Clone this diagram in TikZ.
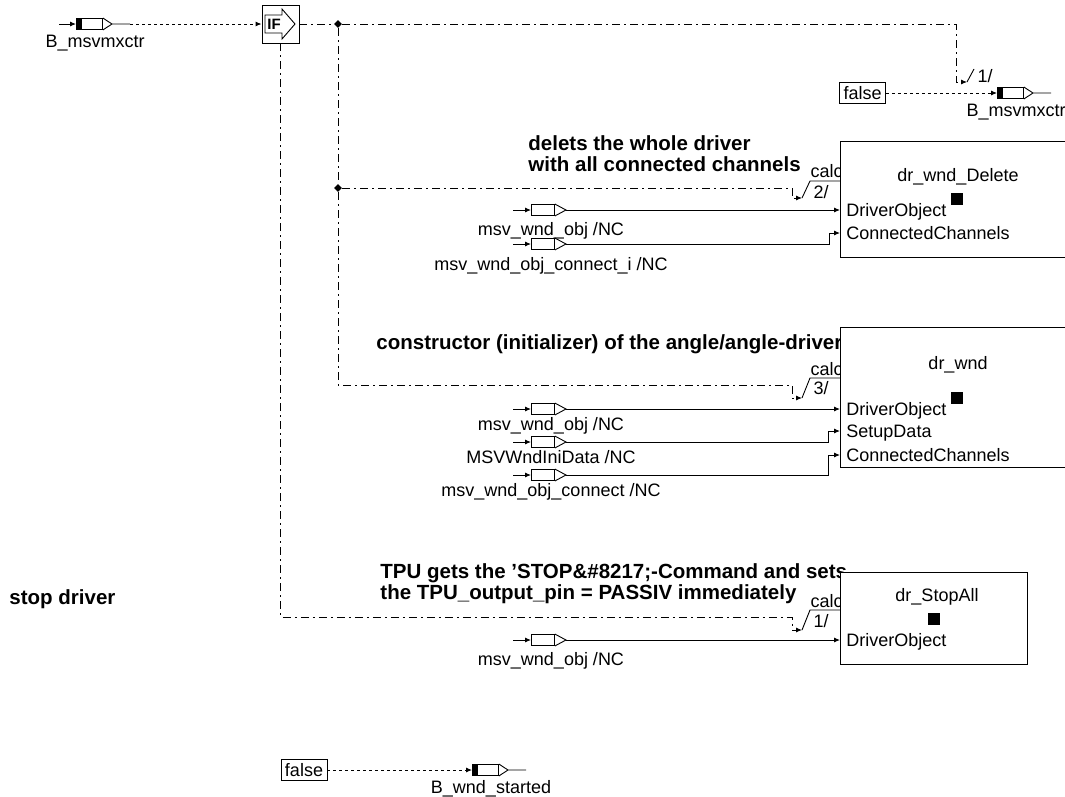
\documentclass[tikz,border=0pt]{standalone}
\usepackage{fontspec}
\setmainfont{Liberation Sans}
\usetikzlibrary{arrows.meta, shapes.geometric, positioning}

\newcommand\lblfont{\fontsize{18}{20}\selectfont}
\newcommand\cmtfont{\fontsize{20.5}{21}\selectfont\bfseries}

\tikzset{
  lbl/.style={font=\lblfont, inner sep=0pt, text height=13pt, text depth=0pt},
  cmt/.style={font=\cmtfont, inner sep=0pt, align=left},
  block/.style={draw, fill=white, inner sep=0pt, anchor=north west},
  pname/.style={lbl, anchor=west},
  flag/.style={draw, font=\lblfont, inner sep=0pt, minimum width=46pt, minimum height=21pt},
  runsq/.style={fill=black, inner sep=0pt, minimum size=12pt},
  junct/.style={diamond, fill=black, inner sep=0pt, minimum size=8pt},
  ctrl/.style={dash pattern=on 8pt off 4pt on 2pt off 4pt},
  dotline/.style={dash pattern=on 3pt off 3pt},
  arr/.style={-{Latex[length=6pt,width=5pt]}},
  pics/nport/.style 2 args={code={
    \node[draw, fill=white, inner sep=0pt, minimum width=23pt, minimum height=11pt, anchor=west] (-r) at (0,0) {};
    \coordinate (-a) at (-18,0);
    \coordinate (-tip) at (35,0);
    \draw[arr] (-a) -- (-r.west);
    \draw (-r.north east) -- (-tip) -- (-r.south east);
    \node[lbl] (-l) at (20,#2) {#1};
  }},
  pics/bport/.style={code={
    \node[draw, fill=white, inner sep=0pt, minimum width=26pt, minimum height=11pt, anchor=west] (-r) at (0,0) {};
    \fill (-r.north west) rectangle ([xshift=6pt]-r.south west);
    \coordinate (-tip) at (36,0);
    \coordinate (-o) at (54,0);
    \draw (-r.north east) -- (-tip) -- (-r.south east) (-tip) -- (-o);
    \node[lbl] (-l) at (19,17) {#1};
  }},
}

\begin{document}
\begin{tikzpicture}[x=1pt, y=-1pt, line width=0.9pt]
\path[use as bounding box, clip] (0,0) rectangle (1065,796);

% comments
\node[cmt, anchor=north west] (c-del) at (528,135) {delets the whole driver\\with all connected channels};
\node[cmt, anchor=base west] (c-wnd) at (376,349) {constructor (initializer) of the angle/angle-driver};
\node[cmt, anchor=north west] (c-stop) at (380,563) {TPU gets the ’STOP\&\#8217;-Command and sets\\the TPU\_output\_pin = PASSIV immediately};
\node[cmt, anchor=base west] (c-sd) at (9,604) {stop driver};

\node[lbl, anchor=base east] (del-calc) at (843,177) {calc};
\node[lbl, anchor=base east] (wnd-calc) at (843,375) {calc};
\node[lbl, anchor=base east] (stop-calc) at (843,607) {calc};

% blocks
\node[block, minimum width=233pt, minimum height=116pt] (del) at (840,141) {};
\node[block, minimum width=233pt, minimum height=140pt] (wnd) at (840,327) {};
\node[block, minimum width=187pt, minimum height=92pt] (stop) at (840,572) {};

\node[lbl] (del-t) at (958,175) {dr\_wnd\_Delete};
\node[lbl] (wnd-t) at (958,363) {dr\_wnd};
\node[lbl] (stop-t) at (937,595) {dr\_StopAll};
\node[runsq] (del-sq) at (956.5,199) {};
\node[runsq] (wnd-sq) at (956.5,398) {};
\node[runsq] (stop-sq) at (933.5,619) {};

\node[pname] (del-do-n) at (846,210) {DriverObject};
\node[pname] (del-cc-n) at (846,233) {ConnectedChannels};
\node[pname] (wnd-do-n) at (846,409) {DriverObject};
\node[pname] (wnd-sd-n) at (846,431) {SetupData};
\node[pname] (wnd-cc-n) at (846,455) {ConnectedChannels};
\node[pname] (stop-do-n) at (846,640) {DriverObject};

\coordinate (del-do) at (840,210);
\coordinate (del-cc) at (840,233);
\coordinate (wnd-do) at (840,409);
\coordinate (wnd-sd) at (840,431);
\coordinate (wnd-cc) at (840,455);
\coordinate (stop-do) at (840,640);

% calc entries
\coordinate (tr-turn) at (956,24);
\coordinate (tr-in) at (967,82);
\coordinate (del-turn) at (792,188);
\coordinate (del-in) at (802,198);
\coordinate (wnd-turn) at (792,385);
\coordinate (wnd-in) at (802,398);
\coordinate (stop-turn) at (792,617);
\coordinate (stop-in) at (802,630);

\draw (tr-in) -- ++(7,-13);
\draw (del-in) -- ++(8,-17) -- ++(30,0);
\draw (wnd-in) -- ++(8,-20) -- ++(30,0);
\draw (stop-in) -- ++(8,-20) -- ++(30,0);
\node[lbl] (tr-n) at (985,76) {1/};
\node[lbl] (del-n) at (821,192) {2/};
\node[lbl] (wnd-n) at (821,388) {3/};
\node[lbl] (stop-n) at (821,621) {1/};

% IF block
\node[draw, minimum width=37pt, minimum height=38pt, inner sep=0pt] (ifb) at (280.5,24) {};
\draw (265,15) -- (282,15) -- (282,9) -- (295,24) -- (282,39) -- (282,33) -- (265,33) -- cycle;
\node[font=\fontsize{15}{15}\selectfont\bfseries, inner sep=0pt] (ift) at (274,24) {IF};

\node[junct] (j1) at (338,24) {};
\node[junct] (j2) at (338,188) {};

% control flow
\draw[ctrl] (ifb.east) -- (j1);
\draw[ctrl, arr] (j1) -- (tr-turn) |- (tr-in);
\draw[ctrl] (j1) -- (j2);
\draw[ctrl, arr] (j2) -- (del-turn) |- (del-in);
\draw[ctrl, arr] (j2) |- (wnd-turn) |- (wnd-in);
\draw[ctrl, arr] (ifb.south) |- (stop-turn) |- (stop-in);

% messages
\coordinate (b1-a) at (59,24);
\pic (b1) at (76,24) {bport={B\_msvmxctr}};
\draw[arr] (b1-a) -- (b1-r.west);
\draw[dotline, arr] (b1-o) -- (ifb.west);

\node[flag] (f1) at (862.5,93) {false};
\pic (b2) at (997,93) {bport={B\_msvmxctr}};
\draw[dotline, arr] (f1) -- (b2-r.west);

\node[flag] (f2) at (304,770) {false};
\pic (b3) at (472,770) {bport={B\_wnd\_started}};
\draw[dotline, arr] (f2) -- (b3-r.west);

% inputs
\pic (d1) at (531,210) {nport={msv\_wnd\_obj /NC}{19}};
\pic (d2) at (531,244) {nport={msv\_wnd\_obj\_connect\_i /NC}{20}};
\pic (w1) at (531,409) {nport={msv\_wnd\_obj /NC}{15}};
\pic (w2) at (531,442) {nport={MSVWndIniData /NC}{15}};
\pic (w3) at (531,475) {nport={msv\_wnd\_obj\_connect /NC}{15}};
\pic (s1) at (531,640) {nport={msv\_wnd\_obj /NC}{19}};

\draw[arr] (d1-tip) -- (del-do);
\draw[arr] (d2-tip) -| ([xshift=-11pt]del-cc) -- (del-cc);
\draw[arr] (w1-tip) -- (wnd-do);
\draw[arr] (w2-tip) -| ([xshift=-12pt]wnd-sd) -- (wnd-sd);
\draw[arr] (w3-tip) -| ([xshift=-12pt]wnd-cc) -- (wnd-cc);
\draw[arr] (s1-tip) -- (stop-do);
\end{tikzpicture}
\end{document}
